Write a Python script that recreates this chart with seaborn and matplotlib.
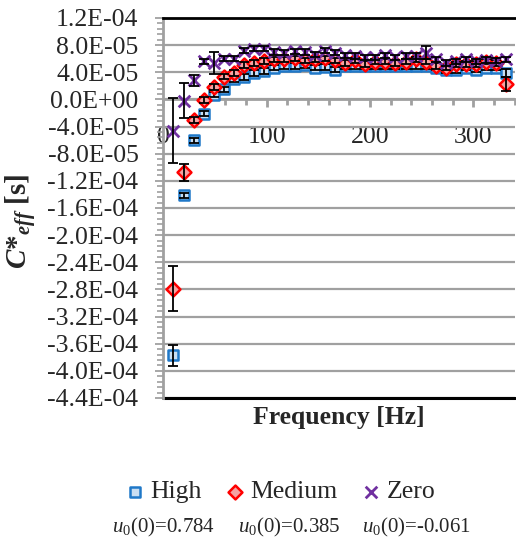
import numpy as np
import pandas as pd
import matplotlib
matplotlib.use("Agg")
import matplotlib.pyplot as plt
from matplotlib.ticker import MultipleLocator, FuncFormatter
import seaborn as sns

# Frequency bins [Hz]
freq_hz = [9.77, 19.53, 29.30, 39.06, 48.83, 58.59, 68.36, 78.13, 87.89, 97.66,
           107.42, 117.19, 126.95, 136.72, 146.48, 156.25, 166.02, 175.78, 185.55, 195.31,
           205.08, 214.84, 224.61, 234.38, 244.14, 253.91, 263.67, 273.44, 283.20, 292.97,
           302.73, 312.50, 322.27, 332.03]

# Effective coefficient C*_eff [s] for each condition
c_high = [-3.77e-4, -1.415e-4, -6.05e-5, -2.1e-5, 0.7e-5, 1.5e-5, 2.95e-5, 3.3e-5, 3.9e-5, 4.2e-5,
          4.7e-5, 4.9e-5, 4.9e-5, 5.05e-5, 4.7e-5, 4.8e-5, 4.4e-5, 4.9e-5, 4.9e-5, 4.9e-5,
          4.9e-5, 4.9e-5, 4.9e-5, 4.9e-5, 4.9e-5, 4.9e-5, 4.7e-5, 4.3e-5, 4.3e-5, 4.7e-5,
          4.4e-5, 4.7e-5, 4.7e-5, 3.9e-5]
c_medium = [-2.79e-4, -1.075e-4, -3.05e-5, -0.1e-5, 1.85e-5, 3.35e-5, 3.9e-5, 5.1e-5, 5.4e-5, 5.65e-5,
            5.9e-5, 5.9e-5, 6.05e-5, 5.75e-5, 5.9e-5, 6.05e-5, 5.75e-5, 5.4e-5, 5.75e-5, 5.25e-5,
            5.55e-5, 5.55e-5, 5.4e-5, 5.55e-5, 5.9e-5, 5.55e-5, 4.9e-5, 4.7e-5, 5.15e-5, 5.25e-5,
            5.25e-5, 5.55e-5, 5.4e-5, 2.3e-5]
c_zero = [-4.6e-5, -0.2e-5, 2.85e-5, 5.6e-5, 5.4e-5, 6.0e-5, 6.0e-5, 7.2e-5, 7.5e-5, 7.5e-5,
          7.0e-5, 6.9e-5, 7.1e-5, 7.0e-5, 6.6e-5, 7.2e-5, 6.9e-5, 6.5e-5, 6.4e-5, 6.2e-5,
          6.2e-5, 6.5e-5, 6.2e-5, 6.4e-5, 6.4e-5, 6.9e-5, 5.9e-5, 5.4e-5, 5.6e-5, 5.9e-5,
          5.6e-5, 5.8e-5, 5.7e-5, 5.9e-5]

# Standard deviation of each point
err_high = [1.55e-5, 0.4e-5, 0.4e-5, 0.4e-5, 0.4e-5, 0.4e-5, 0.4e-5, 0.4e-5, 0.4e-5, 0.4e-5,
            0.4e-5, 0.4e-5, 0.4e-5, 0.4e-5, 0.4e-5, 0.4e-5, 0.4e-5, 0.4e-5, 0.4e-5, 0.4e-5,
            0.4e-5, 0.4e-5, 0.4e-5, 0.4e-5, 0.4e-5, 0.4e-5, 0.4e-5, 0.4e-5, 0.4e-5, 0.4e-5,
            0.4e-5, 0.4e-5, 0.4e-5, 0.6e-5]
err_medium = [3.3e-5, 1.25e-5, 0.4e-5, 0.4e-5, 0.4e-5, 0.4e-5, 0.4e-5, 0.4e-5, 0.4e-5, 0.4e-5,
              0.4e-5, 0.4e-5, 0.4e-5, 0.4e-5, 0.4e-5, 0.4e-5, 0.4e-5, 0.4e-5, 0.4e-5, 0.4e-5,
              0.4e-5, 0.4e-5, 0.4e-5, 0.4e-5, 0.4e-5, 0.4e-5, 0.4e-5, 0.4e-5, 0.4e-5, 0.4e-5,
              0.4e-5, 0.4e-5, 0.4e-5, 1.0e-5]
err_zero = [4.8e-5, 2.6e-5, 0.8e-5, 0.4e-5, 1.6e-5, 0.4e-5, 0.4e-5, 0.4e-5, 0.4e-5, 0.4e-5,
            0.4e-5, 0.4e-5, 0.4e-5, 0.4e-5, 0.4e-5, 0.4e-5, 0.4e-5, 0.4e-5, 0.4e-5, 0.4e-5,
            0.4e-5, 0.4e-5, 0.4e-5, 0.4e-5, 0.4e-5, 1.0e-5, 0.4e-5, 0.4e-5, 0.4e-5, 0.4e-5,
            0.4e-5, 0.4e-5, 0.4e-5, 0.4e-5]

series_names = ["High", "Medium", "Zero"]
u0_values = ["0.784", "0.385", "-0.061"]
x_limits = (0, 340)
y_limits = (-4.4e-4, 1.2e-4)

sns.set_style("white")
plt.rcParams["font.family"] = ["Liberation Serif", "DejaVu Serif"]
plt.rcParams["mathtext.fontset"] = "custom"
plt.rcParams["mathtext.rm"] = "Liberation Serif"
plt.rcParams["mathtext.it"] = "Liberation Serif:italic"
plt.rcParams["mathtext.bf"] = "Liberation Serif:bold"
plt.rcParams["mathtext.bfit"] = "Liberation Serif:italic:bold"

frames = []
for name, vals, errs in zip(series_names, [c_high, c_medium, c_zero],
                            [err_high, err_medium, err_zero]):
    frames.append(pd.DataFrame({"freq": freq_hz, "ceff": vals, "err": errs, "case": name}))
df = pd.concat(frames, ignore_index=True)

styles = {
    "High": dict(marker="s", color="#c9def2", edgecolor="#1f78c8", s=62, linewidth=1.8),
    "Medium": dict(marker="D", color="#f5a3a3", edgecolor="#ff0000", s=50, linewidth=1.8),
    "Zero": dict(marker="x", color="#7030a0", s=70, linewidth=2.0),
}

fig = plt.figure(figsize=(5.16, 5.44), dpi=100)
ax = fig.add_axes([163.4 / 516, 1 - 398 / 544, (514.6 - 163.4) / 516, 380 / 544])

grey = "#a0a0a0"
z = 3
for name in series_names:
    sub = df[df["case"] == name]
    sns.scatterplot(data=sub, x="freq", y="ceff", ax=ax, label=name, zorder=z, **styles[name])
    ax.errorbar(sub["freq"], sub["ceff"], yerr=sub["err"], fmt="none", ecolor="black",
                elinewidth=1.3, capsize=3.6, capthick=1.3, zorder=z + 0.5)
    z += 1

ax.set_xlim(*x_limits)
ax.set_ylim(*y_limits)

# Axes styling
ax.yaxis.set_major_locator(MultipleLocator(4e-5))
ax.yaxis.set_minor_locator(MultipleLocator(8e-6))
ax.xaxis.set_major_locator(MultipleLocator(100))
ax.xaxis.set_minor_locator(MultipleLocator(20))

def sci_fmt(v, pos):
    if abs(v) < 1e-12:
        v = 0.0
    return f"{v:.1E}"

ax.yaxis.set_major_formatter(FuncFormatter(sci_fmt))
ax.xaxis.set_major_formatter(FuncFormatter(lambda v, p: f"{v:.0f}"))

ax.spines["bottom"].set_position(("data", 0))
ax.spines["bottom"].set_color(grey)
ax.spines["bottom"].set_linewidth(2)
ax.spines["left"].set_color(grey)
ax.spines["left"].set_linewidth(2)
ax.spines["right"].set_visible(False)
ax.spines["top"].set_color("black")
ax.spines["top"].set_linewidth(2)
ax.axhline(y_limits[0], color="black", lw=2.2, clip_on=False, zorder=2)

ax.yaxis.grid(True, color=grey, lw=1.6, zorder=0)
ax.set_axisbelow(True)

ax.tick_params(axis="y", which="major", direction="out", length=6, width=1.3, color=grey,
               labelsize=18.5, pad=12, left=True)
ax.tick_params(axis="y", which="minor", direction="out", length=4, width=1.2, color=grey, left=True)
ax.tick_params(axis="x", which="major", direction="out", length=6, width=2, color=grey,
               labelsize=18.5, pad=13, bottom=True)
ax.tick_params(axis="x", which="minor", direction="out", length=4, width=2, color=grey, bottom=True)

ax.set_xlabel("Frequency [Hz]", fontsize=18.5, fontweight="bold")
ax.xaxis.set_label_coords(0.5, -0.022)
ax.xaxis.label.set_va("top")
ax.set_ylabel(r"$\mathbfit{C}$*$_{\mathbfit{eff}}$ [s]", fontsize=21, fontweight="bold")
ax.yaxis.set_label_coords(-0.405, 0.465)
ax.yaxis.label.set_va("center")

handles, labels = ax.get_legend_handles_labels()
ax.get_legend().remove()
fig.legend(handles, labels, loc="center", bbox_to_anchor=(281 / 516, 1 - 492 / 544), ncol=3,
           frameon=False, fontsize=18.5, handlelength=0.6, handletextpad=0.3,
           columnspacing=1.0, borderpad=0.2)

for xc, val in zip([164, 289, 417], u0_values):
    fig.text(xc / 516, 1 - 527 / 544, rf"$u_0$(0)={val}", fontsize=15, ha="center", va="center")

fig.savefig("out.png", dpi=100)
